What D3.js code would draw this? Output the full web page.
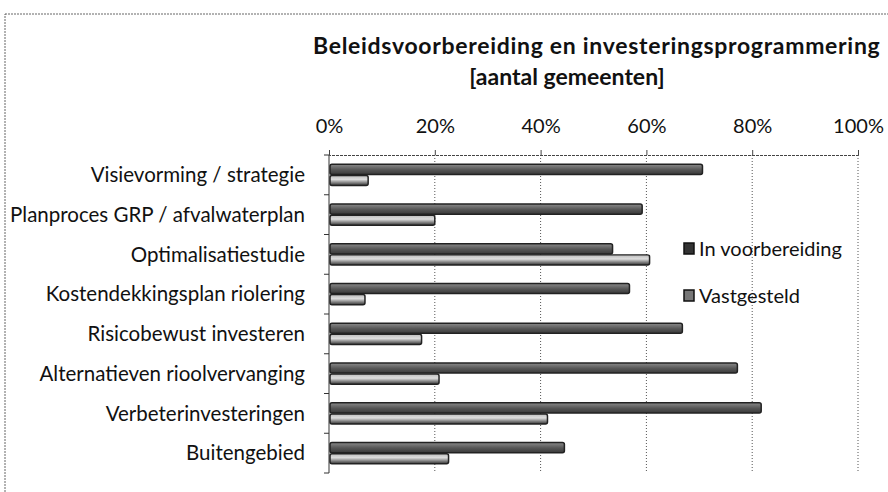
<!DOCTYPE html>
<html>
<head>
<meta charset="utf-8">
<script src="https://cdn.jsdelivr.net/npm/d3@7"></script>
<style>
  body { margin: 0; background: #fff; }
  svg { display: block; font-family: Lato, "Open Sans", sans-serif; }
</style>
</head>
<body>
<div id="chart"></div>
<script>
var categories = [
  "Visievorming / strategie",
  "Planproces GRP / afvalwaterplan",
  "Optimalisatiestudie",
  "Kostendekkingsplan riolering",
  "Risicobewust investeren",
  "Alternatieven rioolvervanging",
  "Verbeterinvesteringen",
  "Buitengebied"
];
var seriesNames = ["In voorbereiding", "Vastgesteld"];
var inVoorbereiding = [70.6, 59.2, 53.6, 56.8, 66.8, 77.2, 81.7, 44.5];
var vastgesteld = [7.4, 20.0, 60.6, 6.8, 17.5, 20.8, 41.3, 22.6];
var tickValues = [0, 20, 40, 60, 80, 100];

var margin = {top: 155, left: 329};
var width = 529;
var height = 318;

var svg = d3.select("#chart").append("svg")
  .attr("width", 888)
  .attr("height", 492);

var defs = svg.append("defs");
var g1 = defs.append("linearGradient").attr("id", "gradIn")
  .attr("x1", 0).attr("y1", 0).attr("x2", 0).attr("y2", 1);
g1.append("stop").attr("offset", "0%").attr("stop-color", "#8a8a8a");
g1.append("stop").attr("offset", "55%").attr("stop-color", "#555");
g1.append("stop").attr("offset", "100%").attr("stop-color", "#3a3a3a");
var g2 = defs.append("linearGradient").attr("id", "gradVast")
  .attr("x1", 0).attr("y1", 0).attr("x2", 0).attr("y2", 1);
g2.append("stop").attr("offset", "0%").attr("stop-color", "#bbb");
g2.append("stop").attr("offset", "40%").attr("stop-color", "#ddd");
g2.append("stop").attr("offset", "100%").attr("stop-color", "#333");

// chart border (scan, dotted)
svg.append("rect")
  .attr("x", 5).attr("y", 14)
  .attr("width", 900).attr("height", 500)
  .attr("fill", "none")
  .attr("stroke", "#666")
  .attr("stroke-width", 1)
  .attr("stroke-dasharray", "2,1");

// title
svg.append("text")
  .attr("x", 313).attr("y", 54)
  .attr("font-weight", "bold")
  .attr("font-size", 23)
  .attr("letter-spacing", 0.7)
  .attr("fill", "#111")
  .text("Beleidsvoorbereiding en investeringsprogrammering");
svg.append("text")
  .attr("x", 567).attr("y", 85)
  .attr("text-anchor", "middle")
  .attr("font-weight", "bold")
  .attr("font-size", 23)
  .attr("fill", "#111")
  .text("[aantal gemeenten]");

var chart = svg.append("g")
  .attr("transform", "translate(" + margin.left + "," + margin.top + ")");

var x = d3.scaleLinear().domain([0, 100]).range([0, width]);
var y = d3.scaleBand().domain(categories).range([0, height])
  .paddingInner(0.44).paddingOuter(0.22);
var ySub = d3.scaleBand().domain(seriesNames).range([0, y.bandwidth()]);

// gridlines
chart.append("g").selectAll("line")
  .data(tickValues.slice(1))
  .enter().append("line")
  .attr("x1", d => x(d)).attr("x2", d => x(d))
  .attr("y1", 0).attr("y2", height)
  .attr("stroke", "#555")
  .attr("stroke-width", 1)
  .attr("stroke-dasharray", "1,2");

// top axis
var xAxis = chart.append("g")
  .call(d3.axisTop(x).tickValues(tickValues).tickFormat(d => d + "%").tickSize(5).tickPadding(17));
xAxis.select(".domain").attr("stroke", "#444").attr("stroke-dasharray", "3,1");
xAxis.selectAll(".tick line").attr("stroke", "#444");
xAxis.selectAll("text")
  .attr("font-size", 20)
  .attr("fill", "#111")
  .style("font-family", "Lato, sans-serif");

// left axis, ticks between categories
var yAxis = chart.append("g");
yAxis.append("line")
  .attr("x1", 0).attr("x2", 0).attr("y1", 0).attr("y2", height)
  .attr("stroke", "#333");
yAxis.selectAll(".sep")
  .data(d3.range(categories.length + 1))
  .enter().append("line")
  .attr("class", "sep")
  .attr("x1", -5).attr("x2", 0)
  .attr("y1", d => height * d / categories.length)
  .attr("y2", d => height * d / categories.length)
  .attr("stroke", "#333");
yAxis.selectAll(".lab")
  .data(categories)
  .enter().append("text")
  .attr("class", "lab")
  .attr("x", -24)
  .attr("y", d => y(d) + y.bandwidth() / 2)
  .attr("dy", "0.35em")
  .attr("text-anchor", "end")
  .attr("font-size", 20.5)
  .attr("fill", "#111")
  .text(d => d);

// bars
var rows = categories.map(function(c, i) {
  return {cat: c, values: [inVoorbereiding[i], vastgesteld[i]]};
});
var groups = chart.selectAll(".grp")
  .data(rows)
  .enter().append("g")
  .attr("class", "grp")
  .attr("transform", d => "translate(0," + y(d.cat) + ")");
groups.selectAll("rect")
  .data(d => d.values.map((v, j) => ({s: seriesNames[j], v: v})))
  .enter().append("rect")
  .attr("x", 1)
  .attr("y", d => ySub(d.s) + 0.5)
  .attr("width", d => x(d.v) - 1)
  .attr("height", ySub.bandwidth() - 1)
  .attr("rx", 2)
  .attr("fill", d => d.s == "In voorbereiding" ? "url(#gradIn)" : "url(#gradVast)")
  .attr("stroke", "#222")
  .attr("stroke-width", 1.5);

// legend
var legend = svg.append("g").attr("transform", "translate(684,243)");
var li = legend.selectAll("g")
  .data(seriesNames)
  .enter().append("g")
  .attr("transform", (d, i) => "translate(0," + (i * 47) + ")");
li.append("rect")
  .attr("width", 10).attr("height", 11)
  .attr("fill", (d, i) => i == 0 ? "#333" : "#777")
  .attr("stroke", "#111").attr("stroke-width", 1.5);
li.append("text")
  .attr("x", 15).attr("y", 13)
  .attr("font-size", 20)
  .attr("fill", "#111")
  .text(d => d);
</script>
</body>
</html>
